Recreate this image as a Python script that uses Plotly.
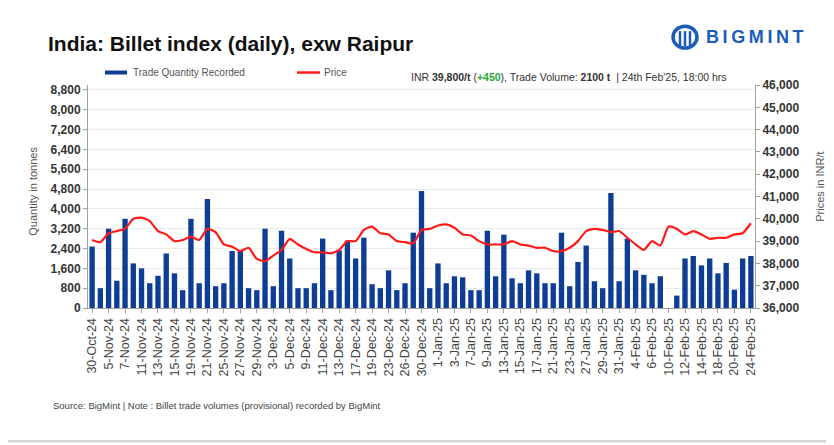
import plotly.graph_objects as go

dates = [
    "30-Oct-24", "4-Nov-24", "5-Nov-24", "6-Nov-24", "7-Nov-24", "8-Nov-24", "11-Nov-24", "12-Nov-24",
    "13-Nov-24", "14-Nov-24", "15-Nov-24", "18-Nov-24", "19-Nov-24", "20-Nov-24", "21-Nov-24", "22-Nov-24",
    "25-Nov-24", "26-Nov-24", "27-Nov-24", "28-Nov-24", "29-Nov-24", "2-Dec-24", "3-Dec-24", "4-Dec-24",
    "5-Dec-24", "6-Dec-24", "9-Dec-24", "10-Dec-24", "11-Dec-24", "12-Dec-24", "13-Dec-24", "16-Dec-24",
    "17-Dec-24", "18-Dec-24", "19-Dec-24", "20-Dec-24", "23-Dec-24", "24-Dec-24", "26-Dec-24", "27-Dec-24",
    "30-Dec-24", "31-Dec-24", "1-Jan-25", "2-Jan-25", "3-Jan-25", "6-Jan-25", "7-Jan-25", "8-Jan-25",
    "9-Jan-25", "10-Jan-25", "13-Jan-25", "14-Jan-25", "15-Jan-25", "16-Jan-25", "17-Jan-25", "20-Jan-25",
    "21-Jan-25", "22-Jan-25", "23-Jan-25", "24-Jan-25", "27-Jan-25", "28-Jan-25", "29-Jan-25", "30-Jan-25",
    "31-Jan-25", "3-Feb-25", "4-Feb-25", "5-Feb-25", "6-Feb-25", "7-Feb-25", "10-Feb-25", "11-Feb-25",
    "12-Feb-25", "13-Feb-25", "14-Feb-25", "17-Feb-25", "18-Feb-25", "19-Feb-25", "20-Feb-25", "21-Feb-25",
    "24-Feb-25",
]

trade_qty = [
    2480, 800, 3200, 1100, 3600, 1800, 1600, 1000, 1300, 2200, 1400, 720, 3600, 1000, 4400, 880, 1000, 2300, 2300, 800, 720,
    3200, 880, 3120, 2000, 800, 800, 1000, 2800, 720, 2320, 2720, 2000, 2840, 960, 800, 1520, 720, 1000, 3040, 4720, 800, 1800,
    1000, 1280, 1240, 720, 720, 3120, 1280, 2960, 1200, 1000, 1520, 1400, 1000, 1000, 3040, 880, 1860, 2520, 1080, 800, 4640, 1080,
    2800, 1520, 1340, 1000, 1280, None, 500, 2000, 2100, 1720, 2000, 1400, 1820, 740, 2000, 2100,
]

price = [
    39050, 38950, 39350, 39450, 39550, 40000, 40050, 39900, 39450, 39300, 39000, 39050, 39200, 39050, 39550, 39400,
    38850, 38750, 38550, 38700, 38200,
    38100, 38350, 38600, 39100, 38850, 38650, 38500, 38500, 38450, 38600, 39000, 39000, 39500, 39650, 39350, 39300,
    39000, 38950, 38900, 39500, 39550, 39700,
    39750, 39600, 39300, 39250, 39000, 38850, 38850, 38850, 39000, 38850, 38800, 38700, 38700, 38550, 38550, 38700,
    39000, 39450, 39550, 39500, 39400, 39450,
    39150, 38850, 38600, 39000, 38800, 39650, 39550, 39300, 39450, 39300, 39100, 39150, 39150, 39300, 39350, 39800,
]

qty_ticks = list(range(0, 8801, 800))
price_ticks = list(range(36000, 46001, 1000))

# page has an 8px body margin: figure is drawn offset by (8, 8)
OFF = 8
W, H = 834 - OFF, 445 - OFF
L, R, T, B = 88, 755, 85, 308.5   # plot area in page pixels
FONT = "Liberation Sans, Arial, Helvetica, sans-serif"
BLUE = "#0e3d96"
RED = "#ff1a1a"


def px(x):
    return (x - L) / (R - L)


def py(y):
    return (B - y) / (B - T)


fig = go.Figure()
fig.add_trace(go.Bar(x=dates, y=trade_qty, name="Trade Quantity Recorded",
                     marker=dict(color=BLUE, line=dict(width=0)), yaxis="y"))
fig.add_trace(go.Scatter(x=dates, y=price, name="Price", mode="lines",
                         line=dict(color=RED, width=2.2, shape="spline", smoothing=0.5), yaxis="y2"))

fig.update_layout(
    width=W, height=H,
    margin=dict(l=L - OFF, r=W - (R - OFF), t=T - OFF, b=H - (B - OFF), pad=0),
    paper_bgcolor="white", plot_bgcolor="white",
    font=dict(family=FONT, color="#333"),
    showlegend=False,
    bargap=0.35,
    xaxis=dict(
        type="category", range=[-0.5, len(dates) - 0.5],
        tickmode="array", tickvals=dates[::2], ticktext=dates[::2],
        tickangle=-90, tickfont=dict(size=12.5, color="#444"),
        showgrid=False, showline=True, linecolor="#a0a0a0", linewidth=1,
        ticks="outside", ticklen=4, tickcolor="#a0a0a0",
    ),
    yaxis=dict(
        range=[0, 9000], tickmode="array", tickvals=qty_ticks,
        tickformat=",", tickfont=dict(size=12, color="#333", weight="bold"),
        showgrid=True, gridcolor="#ebebeb", gridwidth=1,
        showline=True, linecolor="#a0a0a0", linewidth=1,
        ticks="outside", ticklen=4, tickcolor="#a0a0a0", zeroline=False,
    ),
    yaxis2=dict(
        range=[36000, 46000], tickmode="array", tickvals=price_ticks,
        tickformat=",", tickfont=dict(size=12, color="#333", weight="bold"),
        overlaying="y", side="right", showgrid=False,
        showline=True, linecolor="#a0a0a0", linewidth=1,
        ticks="outside", ticklen=4, tickcolor="#a0a0a0", zeroline=False,
    ),
)

ann = []
ann.append(dict(text="<b>India: Billet index (daily), exw Raipur</b>", x=px(46), y=py(43),
                xanchor="left", yanchor="middle", font=dict(size=21, color="#111")))
ann.append(dict(text="<b>B\u2009I\u2009G\u2009M\u2009I\u2009N\u2009T</b>", x=px(704), y=py(37),
                xanchor="left", yanchor="middle", font=dict(size=18, color="#1b5cb8")))
ann.append(dict(text="Trade Quantity Recorded", x=px(131), y=py(72.5), xanchor="left", yanchor="middle",
                font=dict(size=10, color="#555")))
ann.append(dict(text="Price", x=px(322), y=py(72.5), xanchor="left", yanchor="middle",
                font=dict(size=10, color="#555")))
ann.append(dict(text="INR <b>39,800/t</b> (<span style='color:#1fa83a'><b>+450</b></span>), Trade Volume: <b>2100 t</b>  | 24th Feb'25, 18:00 hrs",
                x=px(409), y=py(77), xanchor="left", yanchor="middle", font=dict(size=10.5, color="#333")))
ann.append(dict(text="Quantity in tonnes", x=px(33), y=py(192), textangle=-90, xanchor="center", yanchor="middle",
                font=dict(size=11, color="#555")))
ann.append(dict(text="Prices in INR/t", x=px(820), y=py(187), textangle=-90, xanchor="center", yanchor="middle",
                font=dict(size=11, color="#555")))
ann.append(dict(text="Source: BigMint | Note : Billet trade volumes (provisional) recorded by BigMint",
                x=px(51), y=py(406), xanchor="left", yanchor="middle", font=dict(size=9.5, color="#444")))
for a in ann:
    a.update(xref="paper", yref="paper", showarrow=False)
fig.update_layout(annotations=ann)

shapes = []
# legend markers
shapes.append(dict(type="line", x0=px(105), x1=px(127), y0=py(72.5), y1=py(72.5), line=dict(color=BLUE, width=4)))
shapes.append(dict(type="line", x0=px(297), x1=px(320), y0=py(72.5), y1=py(72.5), line=dict(color=RED, width=2.5)))
# logo icon
shapes.append(dict(type="circle", x0=px(673), x1=px(697), y0=py(48), y1=py(26),
                   line=dict(color="#1b5cb8", width=3.5), fillcolor="white"))
for xi in (680, 685, 690):
    shapes.append(dict(type="line", x0=px(xi), x1=px(xi), y0=py(31), y1=py(46),
                       line=dict(color="#1b5cb8", width=2.5)))
# frame
shapes.append(dict(type="path", path=f"M {px(840)} {py(4)} L {px(7)} {py(4)} L {px(7)} {py(442)} L {px(840)} {py(442)}",
                   line=dict(color="#cfcfcf", width=2)))
for s in shapes:
    s.update(xref="paper", yref="paper", layer="above")
fig.update_layout(shapes=shapes)

fig.write_html("out.html")
